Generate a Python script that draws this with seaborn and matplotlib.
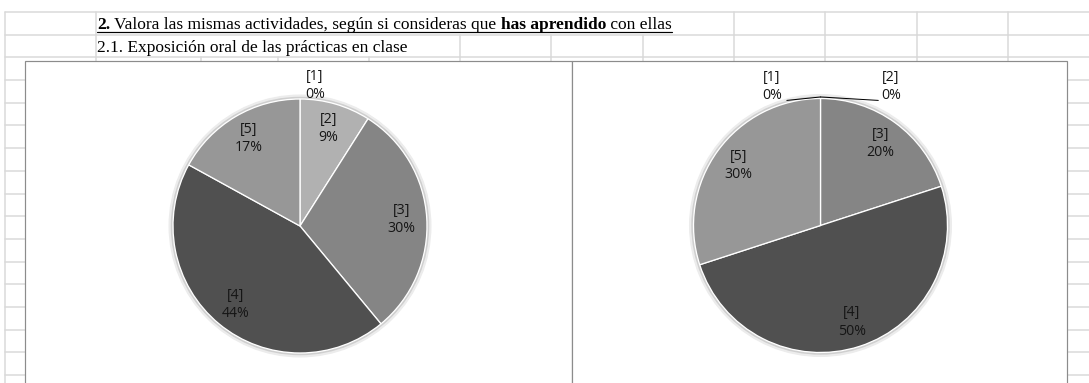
import numpy as np
import matplotlib
matplotlib.use("Agg")
import matplotlib.pyplot as plt
import seaborn as sns
from matplotlib.patches import Circle, Rectangle

# ---------------- data ----------------
categories = ["[1]", "[2]", "[3]", "[4]", "[5]"]
left_pct = [0, 9, 30, 44, 17]
right_pct = [0, 0, 20, 50, 30]
header_parts = ["2.", " Valora las mismas actividades, según si consideras que ", "has aprendido", " con ellas"]
header_bold = [True, False, True, False]
subheader = "2.1. Exposición oral de las prácticas en clase"

# ---------------- style ----------------
sns.set_theme(style="white")
plt.rcParams['font.family'] = ['Open Sans', 'DejaVu Sans']
slice_colors = sns.color_palette(["#a6a6a6", "#b1b1b1", "#858585", "#505050", "#979797"])
label_color = "#151515"
grid_c = "#d9d9d9"
box_c = "#8c8c8c"

W, H = 1089, 383
fig = plt.figure(figsize=(W / 100, H / 100), dpi=100)
fig.patch.set_facecolor("white")
bg = fig.add_axes([0, 0, 1, 1])
bg.set_xlim(0, W)
bg.set_ylim(H, 0)
bg.axis("off")

px = 0.72  # points per pixel
glw = 1.5 * px

# spreadsheet grid
rows = [11.5, 34.5, 57.3] + [57.3 + 22.7 * k for k in range(1, 15)]
for y in rows[:3]:
    bg.plot([5, W], [y, y], color=grid_c, lw=glw, zorder=1)
for y in rows[3:]:
    bg.plot([5, 25], [y, y], color=grid_c, lw=glw, zorder=1)
    bg.plot([1067, W], [y, y], color=grid_c, lw=glw, zorder=1)
bg.plot([5, 5], [11.5, H + 5], color=grid_c, lw=glw, zorder=1)
cols_r1 = [96, 734, 825, 917, 1008]
cols_r2 = [96, 460, 551, 643, 734, 825, 917, 1008]
cols_r3 = [96, 201, 278, 369, 460, 551, 643, 734, 825, 917, 1008]
for x in cols_r1:
    bg.plot([x, x], [11.5, 34.5], color=grid_c, lw=glw, zorder=1)
for x in cols_r2:
    bg.plot([x, x], [34.5, 57.3], color=grid_c, lw=glw, zorder=1)
for x in cols_r3:
    bg.plot([x, x], [57.3, 80], color=grid_c, lw=glw, zorder=1)

# chart boxes
for (x0, x1) in [(25, 572), (572, 1067)]:
    bg.add_patch(Rectangle((x0, 61), x1 - x0, H + 10 - 61, facecolor="white",
                           edgecolor=box_c, lw=1.2 * px, zorder=2))

# header texts
serif = "Liberation Serif"
hs = 12.5
texts = []
t = bg.text(97, 29, header_parts[0], fontfamily=serif, fontsize=hs,
            fontweight="bold" if header_bold[0] else "normal", va="baseline", ha="left",
            color="black", zorder=3)
texts.append(t)
for part, b in zip(header_parts[1:], header_bold[1:]):
    t = bg.annotate(part, xy=(1, 0), xycoords=texts[-1], va="bottom", ha="left",
                    fontfamily=serif, fontsize=hs, fontweight="bold" if b else "normal",
                    color="black", zorder=3)
    texts.append(t)
bg.text(97, 52.5, subheader, fontfamily=serif, fontsize=hs, va="baseline", ha="left",
        color="black", zorder=3)

fig.canvas.draw()
r = fig.canvas.get_renderer()
bb0 = texts[0].get_window_extent(r)
bbN = texts[-1].get_window_extent(r)
bg.plot([bb0.x0, bbN.x1], [32.3, 32.3], color="black", lw=1.2 * px, zorder=3)


# ---------------- pies ----------------
def draw_pie(cx, cy, rad, values, zero_offsets, leaders):
    ax = fig.add_axes([(cx - rad) / W, (H - cy - rad) / H, 2 * rad / W, 2 * rad / H])
    ax.set_xlim(-1, 1)
    ax.set_ylim(-1, 1)
    ax.axis("off")
    ax.add_patch(Circle((0, 0), 1.03, color="#ececec", zorder=0, clip_on=False))
    ax.add_patch(Circle((0, 0), 1.012, color="#cfcfcf", zorder=0, clip_on=False))
    ax.pie(values, colors=slice_colors, startangle=90, counterclock=False,
           radius=1.0, wedgeprops=dict(edgecolor="white", linewidth=1.3 * px),
           normalize=True)
    ax.set_xlim(-1, 1)
    ax.set_ylim(-1, 1)
    total = float(sum(values))
    start = 0.0
    for cat, v in zip(categories, values):
        frac = v / total
        mid = start + frac * 180.0
        start += frac * 360.0
        lab = f"{cat}\n{round(frac * 100):.0f}%"
        if v == 0:
            lx, ly = zero_offsets[cat]
        else:
            ang = np.deg2rad(90 - mid)
            lx, ly = 0.8 * np.cos(ang), 0.8 * np.sin(ang)
        ax.text(lx, ly, lab, ha="center", va="center", fontsize=10.2,
                color=label_color, linespacing=1.3, zorder=5)
    for (x0, y0) in leaders:
        ax.plot([x0, 0], [y0, 1.012], color="black", lw=1.0 * px, clip_on=False, zorder=4)
    return ax


draw_pie(300, 226, 127, left_pct, {"[1]": (0.118, 1.106)}, [])
draw_pie(820.5, 225.5, 127, right_pct,
         {"[1]": (-0.382, 1.094), "[2]": (0.555, 1.094)},
         [(-0.265, 0.985), (0.455, 0.985)])

fig.savefig("out.png", dpi=100, facecolor="white")
